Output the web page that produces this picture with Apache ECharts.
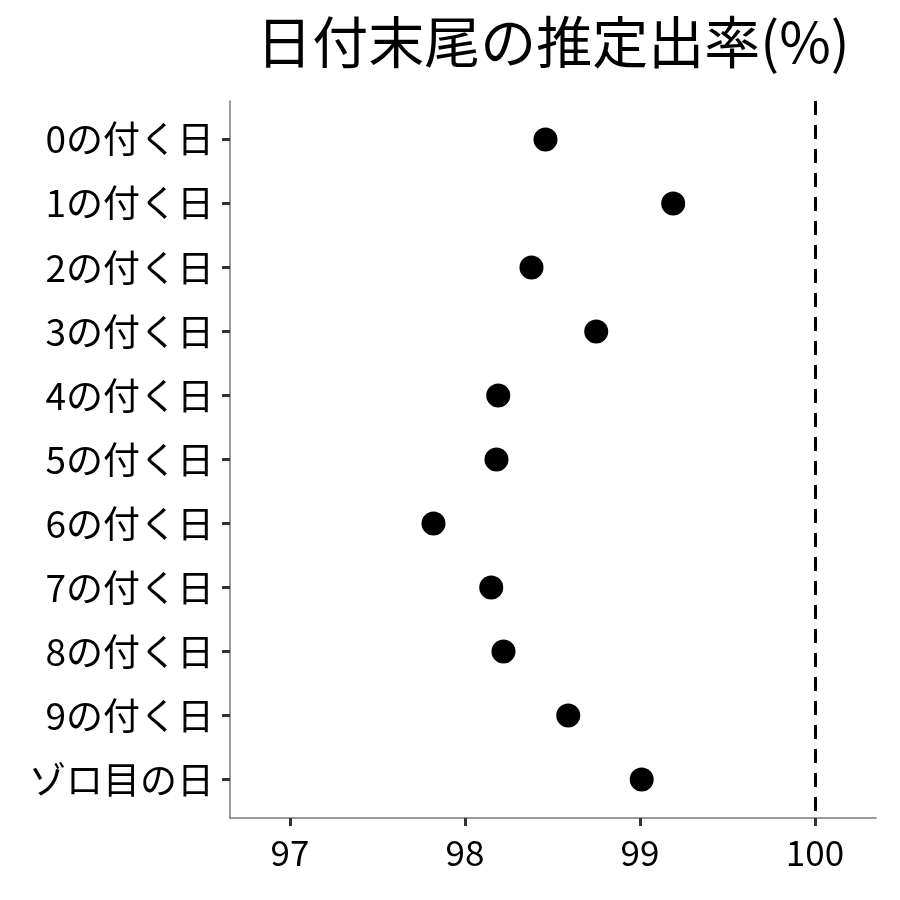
<!DOCTYPE html>
<html>
<head>
<meta charset="utf-8">
<title></title>
<script src="https://cdn.jsdelivr.net/npm/echarts@6/dist/echarts.min.js"></script>
<style>
  html, body { margin: 0; padding: 0; background: #fff; }
  #main { width: 900px; height: 900px; }
</style>
</head>
<body>
<div id="main"></div>
<script type="text/javascript">
    // 日付末尾ごとの推定出率
    var categories = ['0の付く日', '1の付く日', '2の付く日', '3の付く日', '4の付く日', '5の付く日',
                      '6の付く日', '7の付く日', '8の付く日', '9の付く日', 'ゾロ目の日'];
    var rates = [98.46, 99.19, 98.38, 98.75, 98.19, 98.18, 97.82, 98.15, 98.22, 98.59, 99.01];
    var xTicks = [97, 98, 99, 100];
    var refLine = 100;

    var font = '"Noto Sans CJK JP", "Noto Sans", sans-serif';
    var chart = echarts.init(document.getElementById('main'));

    var points = [];
    for (var i = 0; i < rates.length; i++) {
        points.push([rates[i], i]);
    }
    var idx = [];
    for (var k = 0; k < categories.length; k++) idx.push(k);

    chart.setOption({
        animation: false,
        backgroundColor: '#fff',
        title: {
            text: '日付末尾の推定出率(%)',
            left: 548,
            textAlign: 'center',
            top: 9,
            textStyle: { fontFamily: font, fontSize: 56, fontWeight: 'normal', color: '#000' }
        },
        grid: { left: 230, right: 24, top: 101, bottom: 82, containLabel: false },
        xAxis: {
            type: 'value',
            min: 96.657,
            max: 100.349,
            axisLine: { show: true, onZero: false, lineStyle: { color: '#7a7a7a', width: 1.5 } },
            axisTick: { show: true, length: 8, customValues: xTicks, lineStyle: { color: '#333', width: 3 } },
            axisLabel: { customValues: xTicks, margin: 17, fontFamily: font, fontSize: 35, color: '#000' },
            splitLine: { show: false }
        },
        yAxis: {
            type: 'value',
            inverse: true,
            min: -0.6,
            max: 10.6,
            axisLine: { show: true, onZero: false, lineStyle: { color: '#7a7a7a', width: 1.5 } },
            axisTick: { show: true, length: 8, customValues: idx, lineStyle: { color: '#333', width: 3 } },
            axisLabel: {
                customValues: idx, margin: 16, fontFamily: font, fontSize: 37, color: '#000',
                formatter: function (v) { return categories[Math.round(v)]; }
            },
            splitLine: { show: false }
        },
        series: [{
            type: 'scatter',
            data: points,
            symbolSize: 24,
            itemStyle: { color: '#000', opacity: 1 },
            markLine: {
                silent: true,
                symbol: 'none',
                label: { show: false },
                lineStyle: { color: '#000', width: 3, type: [14, 10] },
                data: [{ xAxis: refLine }]
            }
        }]
    });
</script>
</body>
</html>
